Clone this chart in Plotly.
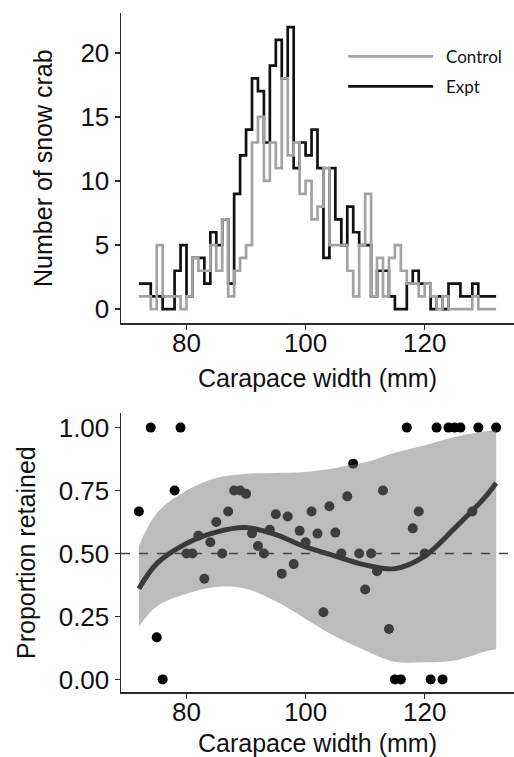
import plotly.graph_objects as go

# ---------------- data ----------------
widths = list(range(72, 133))  # carapace width (mm), step positions

expt_counts = [2, 2, 1, 1, 0, 0, 3, 5, 1, 4, 4, 2, 6, 5, 7, 2, 9, 12, 14, 18,
               17, 13, 19, 21, 18, 22, 11, 13, 12, 14, 11, 4, 11, 7, 5, 8, 6, 5, 5, 1,
               3, 3, 1, 0, 0, 2, 3, 2, 2, 0, 1, 0, 2, 2, 1, 1, 2, 1, 1, 1, 1]

control_counts = [1, 1, 0, 5, 1, 1, 1, 0, 1, 4, 3, 3, 5, 3, 7, 1, 3, 4, 5, 13,
                  15, 10, 13, 11, 18, 12, 13, 9, 10, 7, 8, 11, 5, 5, 5, 3, 1, 5, 9, 1,
                  4, 1, 4, 5, 3, 2, 2, 1, 2, 1, 0, 1, 0, 0, 0, 0, 1, 0, 0, 0, 0]

prop_x = [72, 74, 75, 76, 78, 79, 80, 81, 82, 83, 84, 85, 86, 87, 88, 89, 90, 91,
          92, 93, 94, 95, 96, 97, 98, 99, 100, 101, 102, 103, 104, 105, 106, 107,
          108, 109, 110, 111, 112, 113, 114, 115, 116, 117, 118, 119, 120, 121,
          122, 123, 124, 125, 126, 128, 129, 132]
prop_y = [0.667, 1.0, 0.167, 0.0, 0.75, 1.0, 0.5, 0.5, 0.571, 0.4, 0.545, 0.625,
          0.5, 0.667, 0.75, 0.75, 0.737, 0.58, 0.53, 0.5, 0.594, 0.656, 0.42,
          0.647, 0.458, 0.59, 0.545, 0.667, 0.579, 0.267, 0.6875, 0.583, 0.5,
          0.727, 0.857, 0.5, 0.357, 0.5, 0.43, 0.75, 0.2, 0.0, 0.0, 1.0, 0.6,
          0.667, 0.5, 0.0, 1.0, 0.0, 1.0, 1.0, 1.0, 0.667, 1.0, 1.0]

fit_x = [72, 75, 80, 85, 90, 95, 100, 105, 110, 115, 120, 125, 130, 132]
fit_y = [0.36, 0.46, 0.54, 0.585, 0.603, 0.575, 0.526, 0.49, 0.455, 0.44, 0.49,
         0.60, 0.72, 0.78]
fit_lo = [0.21, 0.29, 0.34, 0.367, 0.36, 0.31, 0.24, 0.17, 0.115, 0.07, 0.068,
          0.075, 0.11, 0.12]
fit_hi = [0.53, 0.66, 0.75, 0.80, 0.817, 0.82, 0.824, 0.84, 0.862, 0.90, 0.93,
          0.963, 0.985, 0.99]

x_ticks = [80, 100, 120]
count_ticks = [0, 5, 10, 15, 20]
prop_ticks = [0, 0.25, 0.5, 0.75, 1.0]
prop_ticktext = ["0.00", "0.25", "0.50", "0.75", "1.00"]

# ---------------- figure ----------------
FONT = "Liberation Sans, Arial, sans-serif"
AX = "#2b2b2b"
TICK_SIZE = 26
TITLE_SIZE = 25

fig = go.Figure()

# histogram steps: Expt first, Control drawn on top
fig.add_trace(go.Scatter(x=widths, y=expt_counts, mode="lines", name="Expt",
                         line=dict(color="#111111", width=2.7, shape="hv"),
                         xaxis="x", yaxis="y", showlegend=False))
fig.add_trace(go.Scatter(x=widths, y=control_counts, mode="lines", name="Control",
                         line=dict(color="#a3a3a3", width=2.7, shape="hv"),
                         xaxis="x", yaxis="y", showlegend=False))

# proportion points
fig.add_trace(go.Scatter(x=prop_x, y=prop_y, mode="markers",
                         marker=dict(color="#000000", size=10, line=dict(width=0)),
                         xaxis="x2", yaxis="y2", showlegend=False))
# confidence ribbon (semi-transparent, over the points)
fig.add_trace(go.Scatter(x=fit_x, y=fit_lo, mode="lines",
                         line=dict(width=0, shape="spline"),
                         xaxis="x2", yaxis="y2", showlegend=False, hoverinfo="skip"))
fig.add_trace(go.Scatter(x=fit_x, y=fit_hi, mode="lines",
                         line=dict(width=0, shape="spline"), fill="tonexty",
                         fillcolor="rgba(122,122,122,0.5)",
                         xaxis="x2", yaxis="y2", showlegend=False, hoverinfo="skip"))
# smooth fit
fig.add_trace(go.Scatter(x=fit_x, y=fit_y, mode="lines",
                         line=dict(color="#3a3a3a", width=5, shape="spline"),
                         xaxis="x2", yaxis="y2", showlegend=False))

# dashed reference line at 0.5
fig.add_shape(type="line", xref="x2 domain", yref="y2", x0=0, x1=1, y0=0.5, y1=0.5,
              line=dict(color="#444444", width=1.5, dash="dash"), layer="above")

# manual legend (long line keys like the original)
fig.add_shape(type="line", xref="paper", yref="paper", x0=0.578, x1=0.794,
              y0=0.936, y1=0.936, line=dict(color="#a3a3a3", width=2.7))
fig.add_shape(type="line", xref="paper", yref="paper", x0=0.578, x1=0.794,
              y0=0.892, y1=0.892, line=dict(color="#111111", width=2.7))
fig.add_annotation(xref="paper", yref="paper", x=0.822, y=0.936, text="Control",
                   showarrow=False, xanchor="left", yanchor="middle",
                   font=dict(family="Lato, Open Sans, sans-serif", size=17, color="#111"))
fig.add_annotation(xref="paper", yref="paper", x=0.822, y=0.892, text="Expt",
                   showarrow=False, xanchor="left", yanchor="middle",
                   font=dict(family="Lato, Open Sans, sans-serif", size=17, color="#111"))

axis_common = dict(showline=True, linecolor=AX, linewidth=1.5, ticks="outside",
                   ticklen=5, tickwidth=1.5, tickcolor=AX, showgrid=False,
                   zeroline=False, automargin=False,
                   tickfont=dict(family=FONT, size=TICK_SIZE, color="#111"),
                   title_font=dict(family=FONT, size=TITLE_SIZE, color="#111"))

fig.update_layout(
    width=514, height=757,
    margin=dict(l=121, r=0, t=13, b=65),
    paper_bgcolor="white", plot_bgcolor="white",
    xaxis=dict(domain=[0, 1], anchor="y", range=[69, 135], tickvals=x_ticks,
               ticklabelstandoff=-9,
               title_text="Carapace width (mm)", title_standoff=12, **axis_common),
    yaxis=dict(domain=[0.543, 1], anchor="x", range=[-1.1, 23.1], tickvals=count_ticks,
               title_text="Number of snow crab", title_standoff=20, **axis_common),
    xaxis2=dict(domain=[0, 1], anchor="y2", range=[69, 135], tickvals=x_ticks,
                ticklabelstandoff=-9,
                title_text="Carapace width (mm)", title_standoff=12, **axis_common),
    yaxis2=dict(domain=[0, 0.4105], anchor="x2", range=[-0.05, 1.057],
                tickvals=prop_ticks, ticktext=prop_ticktext,
                title_text="Proportion retained", title_standoff=16, **axis_common),
)

fig.write_html("out.html",
               config={"displayModeBar": False, "staticPlot": True},
               post_script="document.body.style.margin='0px';"
                           "document.body.style.overflow='hidden';")
